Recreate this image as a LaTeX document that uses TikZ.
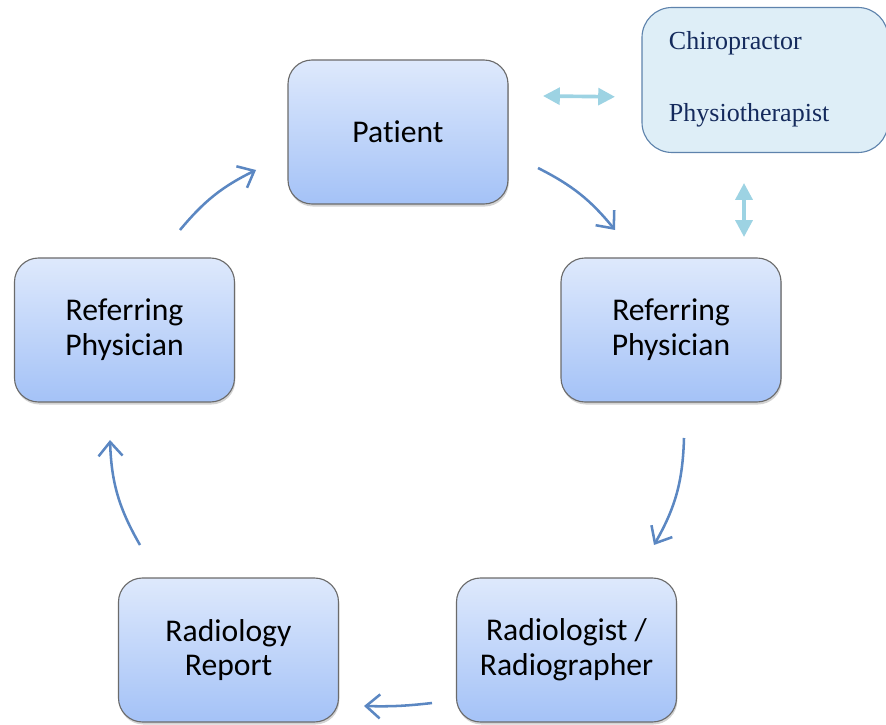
\documentclass[tikz,border=0pt]{standalone}
\usepackage{fontspec}
\setmainfont{Carlito}[Ligatures=NoCommon]
\newfontfamily\notefont{Liberation Serif}
\usepackage{xcolor}
\usepackage{tikz}
\usetikzlibrary{shapes,arrows.meta,positioning,calc,shadows}
\definecolor{boxtop}{HTML}{DEE9FC}
\definecolor{boxbot}{HTML}{A4C2F7}
\definecolor{boxline}{HTML}{6B6B6B}
\definecolor{flow}{HTML}{5B87C2}
\definecolor{link}{HTML}{9DD3E3}
\definecolor{notefill}{HTML}{DEEEF7}
\definecolor{noteline}{HTML}{5E83AC}
\definecolor{notetext}{HTML}{142A5C}
\tikzstyle{stage} = [rectangle, rounded corners=0.6cm, draw=boxline, line width=0.8pt,
  top color=boxtop, bottom color=boxbot, minimum width=5.5cm, minimum height=3.6cm,
  align=center, font=\fontsize{22.5}{24.8}\selectfont,
  drop shadow={shadow xshift=0.6pt, shadow yshift=-1.8pt, opacity=0.35}]
\tikzstyle{flowarrow} = [draw=flow, line width=1.8pt, -{Straight Barb[length=0.35cm, width=0.6cm, line width=1.8pt]}]
\tikzstyle{linkarrow} = [draw=link, line width=2.6pt, {Triangle[length=0.42cm, width=0.42cm]}-{Triangle[length=0.42cm, width=0.42cm]}]
\tikzstyle{note} = [anchor=base west, font=\notefont\fontsize{18.5}{20}\selectfont, text=notetext]

\begin{document}
\begin{tikzpicture}
    \useasboundingbox (0,0) rectangle (22.15,18.1);
    % the five stages of the loop
    \node[stage] (patient) at (9.95,14.8) {Patient};
    \node[stage] (refR) at (16.775,9.85) {Referring\\Physician};
    \node[stage] (radio) at (14.1625,1.85) {Radiologist /\\Radiographer};
    \node[stage] (report) at (5.7125,1.85) {Radiology\\Report};
    \node[stage] (refL) at (3.1125,9.85) {Referring\\Physician};
    % other practitioners
    \node[rectangle, rounded corners=0.75cm, draw=noteline, line width=0.8pt, fill=notefill,
      minimum width=6.15cm, minimum height=3.625cm] (others) at (19.125,16.1) {};
    \node[note] (chiro) at (16.6,16.85) {Chiropractor};
    \node[note] (physio) at (16.6,15.05) {Physiotherapist};
    % arrow ends around the loop
    \coordinate (a1s) at (13.45,13.9);
    \coordinate (a1e) at (15.375,12.35);
    \coordinate (a2s) at (17.1,7.15);
    \coordinate (a2e) at (16.35,4.475);
    \coordinate (a3s) at (10.8,0.525);
    \coordinate (a3e) at (9.1,0.45);
    \coordinate (a4s) at (3.5,4.475);
    \coordinate (a4e) at (2.75,7.1);
    \coordinate (a5s) at (4.5,12.35);
    \coordinate (a5e) at (6.4,13.85);
    \draw[flowarrow] (a1s) to[bend left=12] (a1e);
    \draw[flowarrow] (a2s) to[bend left=14] (a2e);
    \draw[flowarrow] (a3s) to[bend left=4] (a3e);
    \draw[flowarrow] (a4s) to[bend left=14] (a4e);
    \draw[flowarrow] (a5s) to[bend left=12] (a5e);
    % links to the other practitioners
    \coordinate (l1s) at (13.575,15.7);
    \coordinate (l1e) at (15.375,15.68);
    \coordinate (l2s) at (18.6,13.525);
    \coordinate (l2e) at (18.6,12.175);
    \draw[linkarrow] (l1s) -- (l1e);
    \draw[linkarrow] (l2s) -- (l2e);
\end{tikzpicture}
\end{document}
